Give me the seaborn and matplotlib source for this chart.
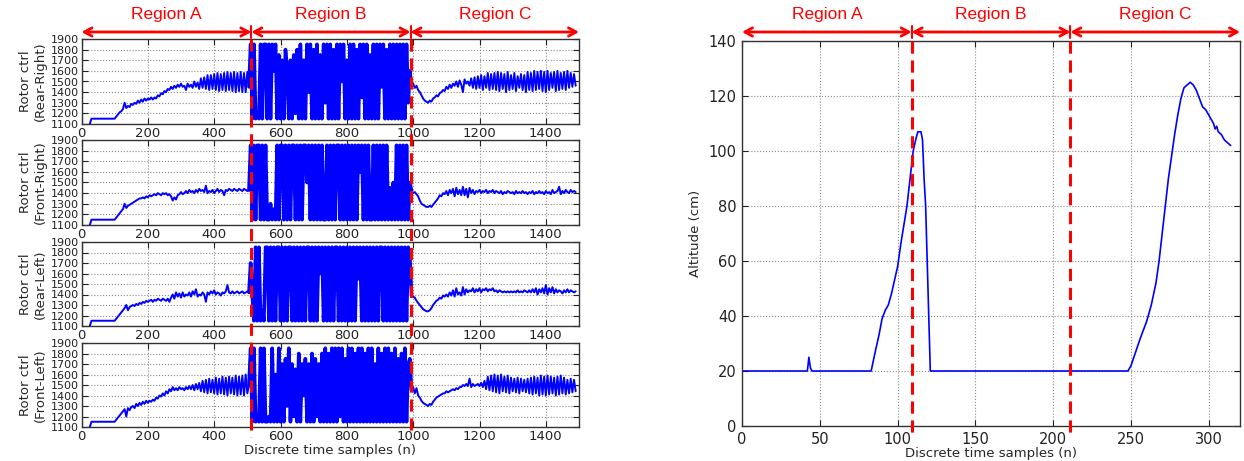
import numpy as np
import matplotlib
matplotlib.use("Agg")
import matplotlib.pyplot as plt
import seaborn as sns
from matplotlib.transforms import blended_transform_factory
from matplotlib.lines import Line2D

# ---------------- data ----------------
region_names = ["Region A", "Region B", "Region C"]
rotor_bounds = [0, 512, 992, 1500]
alt_bounds = [0, 109, 211, 320]

rotor_labels = ["Rotor ctrl\n(Rear-Right)", "Rotor ctrl\n(Front-Right)",
                "Rotor ctrl\n(Rear-Left)", "Rotor ctrl\n(Front-Left)"]
rotor_xticks = [0, 200, 400, 600, 800, 1000, 1200, 1400]
rotor_yticks = [1100, 1200, 1300, 1400, 1500, 1600, 1700, 1800, 1900]
alt_xticks = [0, 50, 100, 150, 200, 250, 300]
alt_yticks = [0, 20, 40, 60, 80, 100, 120, 140]

# sample start of each region and sampling step of the hand-read series
seg_start = [25, 510, 995]
seg_step = 5

rr_a = [1100, 1150, 1150, 1150, 1150, 1150, 1150, 1150, 1150, 1150, 1150, 1150, 1150, 1150, 1150, 1150,
        1170, 1190, 1210, 1220, 1240, 1300, 1250, 1270, 1260, 1290,
        1280, 1300, 1290, 1320, 1300, 1330, 1310, 1340, 1320, 1340,
        1330, 1350, 1330, 1350, 1340, 1370, 1360, 1390, 1380, 1410,
        1400, 1430, 1420, 1450, 1430, 1460, 1440, 1470, 1450, 1480,
        1450, 1460, 1420, 1480, 1450, 1470, 1440, 1500, 1450, 1490,
        1430, 1530, 1440, 1540, 1430, 1560, 1420, 1560, 1430, 1570,
        1420, 1580, 1410, 1570, 1420, 1580, 1410, 1590, 1420, 1580,
        1410, 1590, 1400, 1580, 1410, 1590, 1400, 1580, 1400, 1590, 1450]
rr_b = [1850, 1150, 1850, 1150, 1200, 1150, 1850, 1150, 1850, 1850,
        1150, 1850, 1150, 1850, 1600, 1850, 1150, 1750, 1150, 1700,
        1150, 1800, 1600, 1150, 1700, 1150, 1750, 1200, 1800, 1150,
        1850, 1150, 1700, 1150, 1850, 1400, 1850, 1150, 1800, 1150,
        1850, 1150, 1750, 1150, 1850, 1300, 1850, 1150, 1850, 1150,
        1800, 1150, 1850, 1150, 1850, 1500, 1850, 1150, 1700, 1150,
        1850, 1150, 1850, 1150, 1800, 1150, 1850, 1350, 1850, 1150,
        1850, 1150, 1750, 1150, 1850, 1150, 1850, 1150, 1850, 1450,
        1850, 1150, 1800, 1150, 1850, 1150, 1850, 1150, 1850, 1150,
        1850, 1150, 1850, 1150, 1850, 1300, 1600]
rr_c = [1450, 1480, 1440, 1460, 1420, 1400, 1370, 1340, 1320, 1310,
        1300, 1320, 1310, 1340, 1350, 1370, 1360, 1390, 1400, 1420,
        1410, 1450, 1430, 1470, 1440, 1480, 1460, 1500, 1450, 1510,
        1470, 1400, 1520, 1480, 1500, 1460, 1530, 1440, 1540, 1430,
        1550, 1440, 1560, 1420, 1550, 1440, 1580, 1420, 1570, 1430,
        1580, 1420, 1590, 1410, 1580, 1430, 1570, 1400, 1590, 1420,
        1560, 1430, 1580, 1410, 1550, 1440, 1570, 1420, 1560, 1400,
        1590, 1420, 1580, 1410, 1600, 1420, 1590, 1430, 1600, 1410,
        1590, 1400, 1600, 1420, 1580, 1440, 1590, 1410, 1600, 1420,
        1580, 1430, 1590, 1420, 1600, 1440, 1580, 1450, 1570, 1460]

fr_a = [1100, 1150, 1150, 1150, 1150, 1150, 1150, 1150, 1150, 1150, 1150, 1150, 1150, 1150, 1150, 1150,
        1170, 1190, 1210, 1230, 1250, 1300, 1260, 1280, 1290, 1300,
        1310, 1320, 1330, 1340, 1350, 1350, 1360, 1350, 1370, 1360,
        1380, 1370, 1380, 1390, 1380, 1400, 1390, 1380, 1400, 1390,
        1400, 1380, 1390, 1370, 1330, 1360, 1340, 1380, 1390, 1410,
        1390, 1400, 1420, 1400, 1430, 1410, 1420, 1400, 1430, 1410,
        1440, 1420, 1430, 1410, 1470, 1400, 1420, 1410, 1430, 1400,
        1420, 1440, 1410, 1430, 1420, 1380, 1430, 1420, 1440, 1430,
        1420, 1440, 1430, 1420, 1440, 1430, 1420, 1440, 1430, 1420, 1430]
fr_b = [1850, 1150, 1850, 1150, 1850, 1850, 1150, 1850, 1150, 1850,
        1150, 1150, 1300, 1150, 1250, 1150, 1850, 1150, 1850, 1850,
        1150, 1850, 1150, 1850, 1150, 1850, 1850, 1150, 1850, 1150,
        1850, 1150, 1850, 1850, 1500, 1850, 1150, 1850, 1150, 1850,
        1150, 1850, 1150, 1850, 1150, 1150, 1850, 1150, 1850, 1150,
        1850, 1150, 1850, 1850, 1150, 1850, 1150, 1850, 1150, 1850,
        1150, 1850, 1150, 1850, 1150, 1850, 1600, 1850, 1150, 1850,
        1150, 1850, 1150, 1150, 1850, 1150, 1850, 1150, 1850, 1150,
        1850, 1150, 1850, 1150, 1450, 1150, 1500, 1150, 1850, 1150,
        1850, 1150, 1850, 1150, 1850, 1150, 1500]
fr_c = [1420, 1400, 1410, 1390, 1370, 1330, 1300, 1290, 1280, 1270,
        1270, 1280, 1270, 1290, 1310, 1330, 1350, 1380, 1370, 1400,
        1390, 1420, 1380, 1430, 1400, 1440, 1370, 1450, 1390, 1430,
        1380, 1460, 1380, 1440, 1360, 1450, 1400, 1430, 1390, 1420,
        1410, 1430, 1400, 1420, 1410, 1430, 1400, 1420, 1410, 1430,
        1400, 1420, 1410, 1400, 1420, 1390, 1410, 1400, 1420, 1410,
        1400, 1410, 1390, 1420, 1400, 1410, 1400, 1420, 1400, 1410,
        1390, 1410, 1400, 1420, 1390, 1410, 1400, 1420, 1400, 1410,
        1390, 1420, 1400, 1410, 1390, 1430, 1400, 1410, 1420, 1460,
        1390, 1420, 1400, 1430, 1410, 1400, 1430, 1410, 1420, 1410]

rl_a = [1100, 1150, 1150, 1150, 1150, 1150, 1150, 1150, 1150, 1150, 1150, 1150, 1150, 1150, 1150, 1150,
        1170, 1190, 1210, 1230, 1250, 1270, 1300, 1250, 1280, 1290,
        1300, 1290, 1310, 1300, 1320, 1310, 1330, 1320, 1340, 1330,
        1340, 1350, 1330, 1350, 1340, 1360, 1350, 1340, 1360, 1350,
        1340, 1360, 1330, 1370, 1400, 1360, 1420, 1380, 1410, 1370,
        1420, 1380, 1400, 1390, 1420, 1380, 1430, 1400, 1450, 1380,
        1400, 1390, 1420, 1400, 1330, 1420, 1400, 1430, 1410, 1440,
        1400, 1420, 1410, 1390, 1420, 1410, 1430, 1490, 1420, 1410,
        1430, 1410, 1420, 1430, 1410, 1420, 1430, 1410, 1420, 1430, 1420]
rl_b = [1700, 1400, 1150, 1850, 1150, 1850, 1150, 1250, 1150, 1850,
        1850, 1150, 1850, 1150, 1850, 1150, 1850, 1850, 1150, 1850,
        1150, 1850, 1150, 1850, 1850, 1150, 1850, 1150, 1850, 1150,
        1850, 1150, 1850, 1150, 1850, 1850, 1150, 1850, 1150, 1850,
        1150, 1850, 1600, 1850, 1150, 1850, 1150, 1850, 1150, 1850,
        1150, 1850, 1850, 1150, 1850, 1150, 1850, 1150, 1850, 1150,
        1850, 1150, 1850, 1150, 1850, 1550, 1850, 1150, 1850, 1150,
        1850, 1150, 1850, 1150, 1850, 1150, 1850, 1150, 1850, 1850,
        1150, 1850, 1150, 1850, 1150, 1850, 1150, 1850, 1150, 1850,
        1150, 1850, 1150, 1850, 1150, 1850, 1750]
rl_c = [1400, 1380, 1370, 1340, 1320, 1300, 1280, 1260, 1250, 1240,
        1240, 1250, 1270, 1300, 1320, 1340, 1350, 1370, 1360, 1390,
        1380, 1400, 1380, 1420, 1390, 1440, 1380, 1460, 1400, 1420,
        1390, 1470, 1400, 1450, 1420, 1440, 1430, 1460, 1420, 1450,
        1430, 1460, 1420, 1450, 1440, 1460, 1430, 1450, 1440, 1460,
        1430, 1440, 1420, 1440, 1430, 1420, 1430, 1420, 1430, 1420,
        1430, 1420, 1430, 1420, 1440, 1420, 1430, 1420, 1440, 1430,
        1420, 1440, 1420, 1450, 1420, 1460, 1400, 1450, 1420, 1460,
        1410, 1490, 1400, 1460, 1420, 1470, 1410, 1450, 1420, 1440,
        1430, 1410, 1440, 1420, 1450, 1420, 1440, 1430, 1420, 1430]

fl_a = [1100, 1150, 1150, 1150, 1150, 1150, 1150, 1150, 1150, 1150, 1150, 1150, 1150, 1150, 1150, 1150,
        1170, 1190, 1210, 1230, 1250, 1270, 1200, 1280, 1260, 1290,
        1300, 1280, 1320, 1300, 1330, 1310, 1340, 1320, 1350, 1330,
        1350, 1340, 1360, 1350, 1380, 1370, 1400, 1390, 1420, 1400,
        1440, 1420, 1460, 1440, 1480, 1450, 1470, 1450, 1480, 1460,
        1470, 1450, 1480, 1460, 1490, 1460, 1500, 1450, 1510, 1460,
        1520, 1440, 1540, 1430, 1550, 1420, 1560, 1430, 1550, 1420,
        1570, 1410, 1560, 1420, 1580, 1410, 1570, 1400, 1580, 1420,
        1570, 1410, 1590, 1400, 1580, 1410, 1590, 1400, 1600, 1420, 1500]
fl_b = [1850, 1150, 1850, 1150, 1200, 1150, 1850, 1150, 1850, 1150,
        1150, 1200, 1150, 1850, 1150, 1600, 1150, 1850, 1150, 1700,
        1150, 1750, 1300, 1850, 1150, 1700, 1200, 1650, 1150, 1800,
        1150, 1700, 1400, 1750, 1150, 1700, 1150, 1800, 1150, 1750,
        1200, 1700, 1150, 1800, 1150, 1850, 1150, 1800, 1150, 1850,
        1150, 1850, 1150, 1850, 1200, 1850, 1150, 1750, 1150, 1850,
        1150, 1850, 1150, 1800, 1150, 1850, 1150, 1850, 1150, 1800,
        1150, 1850, 1150, 1850, 1150, 1700, 1150, 1850, 1150, 1800,
        1150, 1850, 1150, 1850, 1150, 1800, 1150, 1850, 1150, 1750,
        1150, 1800, 1150, 1850, 1150, 1700, 1750]
fl_c = [1450, 1480, 1420, 1470, 1400, 1380, 1350, 1330, 1320, 1310,
        1300, 1320, 1310, 1340, 1360, 1380, 1390, 1400, 1410, 1420,
        1420, 1440, 1430, 1440, 1450, 1460, 1450, 1470, 1460, 1480,
        1480, 1500, 1490, 1510, 1490, 1560, 1480, 1510, 1490, 1500,
        1510, 1490, 1520, 1480, 1540, 1460, 1580, 1450, 1590, 1440,
        1600, 1430, 1590, 1420, 1600, 1440, 1580, 1430, 1590, 1420,
        1570, 1440, 1560, 1430, 1570, 1420, 1560, 1440, 1550, 1430,
        1560, 1420, 1570, 1410, 1580, 1420, 1570, 1400, 1590, 1410,
        1580, 1400, 1590, 1410, 1580, 1420, 1570, 1400, 1580, 1410,
        1590, 1420, 1570, 1410, 1550, 1420, 1560, 1430, 1550, 1440]

alt_n = [0, 42, 43, 44, 45, 82, 83, 86, 88, 90,
         92, 94, 96, 98, 100, 102, 104, 106, 108, 110,
         112, 113, 115, 116, 117, 118, 119, 120, 121, 248,
         250, 253, 256, 260, 263, 266, 268, 270, 272, 274,
         276, 278, 280, 282, 284, 286, 288, 290, 292, 294,
         296, 298, 300, 302, 303, 304, 305, 306, 308, 310,
         312, 314]
alt_cm = [20, 20, 25, 21, 20, 20, 20, 28, 33, 39,
          42, 44, 48, 53, 58, 66, 73, 80, 90, 100,
          105, 107, 107, 104, 90, 80, 60, 40, 20, 20,
          22, 27, 32, 38, 44, 52, 60, 70, 80, 90,
          98, 106, 113, 119, 123, 124, 125, 124, 122, 119,
          116, 115, 113, 111, 110, 108, 109, 107, 106, 104,
          103, 102]

rotor_series = [(rr_a, rr_b, rr_c), (fr_a, fr_b, fr_c), (rl_a, rl_b, rl_c), (fl_a, fl_b, fl_c)]

# ---------------- style ----------------
sns.set_style("white")
plt.rcParams["font.family"] = ["DejaVu Sans"]
RED = "#ff0000"
BLUE = "#0000ff"
W, H = 1244, 461

fig = plt.figure(figsize=(W / 100, H / 100), dpi=100)


def fx(px):
    return px / W


def fy(py):
    return 1 - py / H


def style_axes(ax, xsize, ysize, pad=2):
    ax.grid(True, linestyle=":", color="#8a8a8a", linewidth=0.8)
    ax.tick_params(direction="in", length=4, pad=pad,
                   top=True, right=True, bottom=True, left=True, colors="#222222")
    ax.tick_params(axis="x", labelsize=xsize)
    ax.tick_params(axis="y", labelsize=ysize)
    for s in ax.spines.values():
        s.set_color("#333333")
        s.set_linewidth(1.0)


# ---------------- left: 4 rotor panels ----------------
panel_px = [(39, 124), (140, 225), (242, 326), (343, 427)]
L0, L1 = 81.5, 579
rotor_axes = []
for i, ((top, bot), segs, lab) in enumerate(zip(panel_px, rotor_series, rotor_labels)):
    ax = fig.add_axes([fx(L0), fy(bot), fx(L1 - L0), (bot - top) / H])
    xs, ys = [], []
    for st, seg in zip(seg_start, segs):
        xs.append(st + seg_step * np.arange(len(seg)))
        ys.append(np.asarray(seg, dtype=float))
    n = np.concatenate(xs)
    v = np.concatenate(ys)
    sns.lineplot(x=n, y=v, ax=ax, color=BLUE, linewidth=1.4, estimator=None, sort=False)
    # region B drawn again with a heavier stroke so the fast switching reads as a dense block
    nb = np.concatenate([xs[0][-1:], xs[1], xs[2][:1]])
    vb = np.concatenate([ys[0][-1:], ys[1], ys[2][:1]])
    sns.lineplot(x=nb, y=vb, ax=ax, color=BLUE, linewidth=2.6, estimator=None, sort=False)
    ax.set_xlim(0, 1500)
    ax.set_ylim(1100, 1900)
    ax.set_xticks(rotor_xticks)
    ax.set_yticks(rotor_yticks)
    style_axes(ax, 9.5, 8.0)
    ax.set_ylabel(lab, fontsize=9.5, labelpad=3, linespacing=1.1)
    if i == 3:
        ax.set_xlabel("Discrete time samples (n)", fontsize=9.5, labelpad=1)
    else:
        ax.set_xlabel("")
    rotor_axes.append(ax)

# ---------------- right: altitude ----------------
axr = fig.add_axes([fx(742), fy(426), fx(1240 - 742), (426 - 41) / H])
sns.lineplot(x=alt_n, y=alt_cm, ax=axr, color=BLUE, linewidth=1.2, estimator=None, sort=False)
axr.set_xlim(0, 320)
axr.set_ylim(0, 140)
axr.set_xticks(alt_xticks)
axr.set_yticks(alt_yticks)
style_axes(axr, 10.5, 10.5, pad=4)
axr.set_ylabel("Altitude (cm)", fontsize=9.5, labelpad=5)
axr.set_xlabel("Discrete time samples (n)", fontsize=9.5, labelpad=0)


# ---------------- region markers ----------------
def regions(ax, bounds, y_top_px):
    tr = blended_transform_factory(ax.transData, fig.transFigure)
    ya = fy(32)
    for k in range(3):
        ax.annotate("", xy=(bounds[k], ya), xytext=(bounds[k + 1], ya),
                    xycoords=tr, textcoords=tr, annotation_clip=False,
                    arrowprops=dict(arrowstyle="<->,head_length=0.55,head_width=0.3",
                                    color=RED, lw=2.0, shrinkA=0, shrinkB=0))
        ax.text((bounds[k] + bounds[k + 1]) / 2, fy(15), region_names[k], transform=tr,
                ha="center", va="center", color=RED, fontsize=12.5,
                family=["Liberation Sans", "DejaVu Sans"])
    for b in bounds[1:3]:
        fig.add_artist(Line2D([b, b], [fy(26), fy(38)], transform=tr, color=RED, lw=1.5))
        fig.add_artist(Line2D([b, b], [fy(y_top_px), fy(437)], transform=tr, color=RED,
                              lw=2.2, linestyle=(0, (4, 2.2)), zorder=10))


regions(rotor_axes[0], rotor_bounds, 39)
regions(axr, alt_bounds, 41)

fig.savefig("out.png", dpi=100)
